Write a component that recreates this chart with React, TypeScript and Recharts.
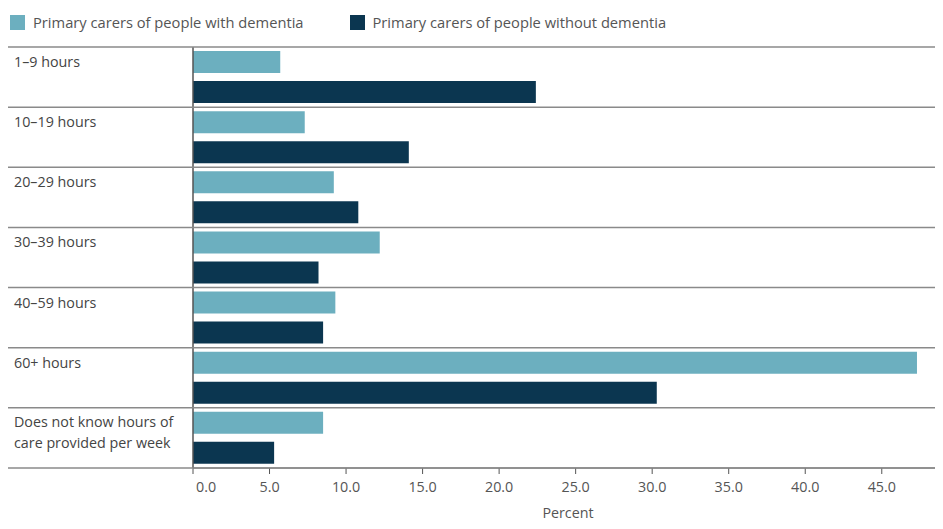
import { BarChart, Bar, XAxis, YAxis } from "recharts";

const categories = [
  "1–9 hours",
  "10–19 hours",
  "20–29 hours",
  "30–39 hours",
  "40–59 hours",
  "60+ hours",
  "Does not know hours of\ncare provided per week",
];
const withDementia = [5.7, 7.3, 9.2, 12.2, 9.3, 47.3, 8.5];
const withoutDementia = [22.4, 14.1, 10.8, 8.2, 8.5, 30.3, 5.3];
const xTicks = [0, 5, 10, 15, 20, 25, 30, 35, 40, 45];

const LIGHT = "#6CAFBF";
const DARK = "#0B3650";
const FONT = "'Open Sans', sans-serif";

const W = 943;
const H = 529;
const TOP = 47;
const BOTTOM = 61;
const BAND = (H - TOP - BOTTOM) / categories.length;

const data = categories.map((c, i) => ({
  name: c,
  "Primary carers of people with dementia": withDementia[i],
  "Primary carers of people without dementia": withoutDementia[i],
}));

function CategoryTick(props: any) {
  const { y, payload, index } = props;
  const top = y - BAND / 2;
  const lines = String(payload.value).split("\n");
  return (
    <g>
      <line x1={7} x2={W} y1={top} y2={top} stroke="#8a8a8a" strokeWidth={1.5} />
      {index === categories.length - 1 && (
        <line x1={7} x2={W} y1={top + BAND} y2={top + BAND} stroke="#8a8a8a" strokeWidth={1.5} />
      )}
      <text x={14} y={lines.length > 1 ? top + 19 : top + 20} fontSize={14.3} fill="#444" fontFamily={FONT}>
        {lines.map((l, i) => (
          <tspan key={i} x={14} dy={i ? 21 : 0}>
            {l}
          </tspan>
        ))}
      </text>
    </g>
  );
}

function ValueTick(props: any) {
  const { x, y, payload, index } = props;
  return (
    <text
      x={index === 0 ? x + 3 : x}
      y={y}
      dy="0.71em"
      textAnchor={index === 0 ? "start" : "middle"}
      fontSize={14.3}
      fill="#555"
      fontFamily={FONT}
    >
      {Number(payload.value).toFixed(1)}
    </text>
  );
}

function LegendItem({ color, label }: { color: string; label: string }) {
  return (
    <div style={{ display: "flex", alignItems: "center", marginRight: 46 }}>
      <div style={{ width: 15, height: 15, background: color, marginRight: 8 }} />
      <span style={{ fontSize: 14.7, color: "#555", fontFamily: FONT }}>{label}</span>
    </div>
  );
}

export default function App() {
  return (
    <div style={{ position: "relative", margin: -8, width: W, height: H, background: "#fff" }}>
      <div style={{ position: "absolute", left: 10, top: 12, display: "flex" }}>
        <LegendItem color={LIGHT} label="Primary carers of people with dementia" />
        <LegendItem color={DARK} label="Primary carers of people without dementia" />
      </div>
      <BarChart
        width={W}
        height={H}
        data={data}
        layout="vertical"
        margin={{ top: TOP, right: 0, bottom: 0, left: 0 }}
        barCategoryGap={4}
        barGap={8}
      >
        <XAxis
          type="number"
          domain={[0, 49]}
          ticks={xTicks}
          height={BOTTOM}
          tick={<ValueTick />}
          tickSize={6}
          tickMargin={8}
          axisLine={{ stroke: "#8a8a8a", strokeWidth: 1.5 }}
          tickLine={{ stroke: "#555" }}
          label={{ value: "Percent", position: "insideBottom", offset: 11, fontSize: 14.3, fill: "#555", fontFamily: FONT }}
        />
        <YAxis
          type="category"
          dataKey="name"
          width={193}
          tick={<CategoryTick />}
          tickLine={false}
          axisLine={{ stroke: "#555", strokeWidth: 1.5 }}
          interval={0}
        />
        <Bar dataKey="Primary carers of people with dementia" fill={LIGHT} isAnimationActive={false} />
        <Bar dataKey="Primary carers of people without dementia" fill={DARK} isAnimationActive={false} />
      </BarChart>
    </div>
  );
}
